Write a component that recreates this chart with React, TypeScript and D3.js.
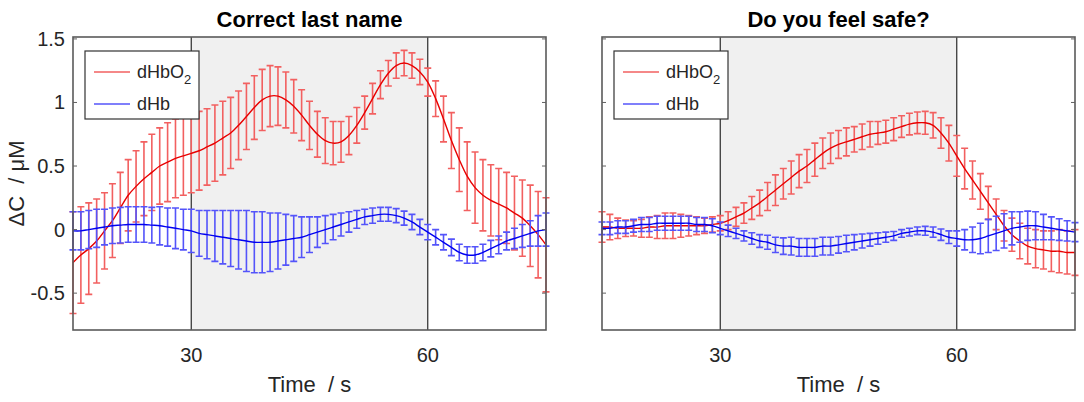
import * as d3 from 'd3';
import * as React from 'react';
import { Component } from 'react';

// sample times (s), one sample per second
const TIME: number[] = d3.range(15, 76);
const X_TICKS = [30, 60];
const Y_TICKS = [-0.5, 0, 0.5, 1, 1.5];
const TASK_WINDOW = [30, 60];
const TITLES = ['Correct last name', 'Do you feel safe?'];

// panel 1: "Correct last name"
const HBO2_MEAN_1 = [
  -0.26, -0.2, -0.15, -0.09, -0.01, 0.07, 0.17, 0.27, 0.34, 0.4,
  0.45, 0.5, 0.53, 0.56, 0.58, 0.6, 0.62, 0.65, 0.68, 0.72,
  0.76, 0.82, 0.89, 0.96, 1.02, 1.05, 1.05, 1.02, 0.97, 0.9,
  0.82, 0.75, 0.7, 0.68, 0.69, 0.74, 0.82, 0.92, 1.03, 1.14,
  1.23, 1.29, 1.31, 1.29, 1.24, 1.16, 1.03, 0.87, 0.7, 0.55,
  0.42, 0.33, 0.27, 0.23, 0.2, 0.17, 0.13, 0.09, 0.03, -0.04, -0.12
];
const HBO2_SD_1 = [
  0.4, 0.38, 0.36, 0.33, 0.3, 0.29, 0.28, 0.28, 0.28, 0.29,
  0.3, 0.3, 0.31, 0.31, 0.31, 0.31, 0.31, 0.3, 0.3, 0.29,
  0.28, 0.27, 0.26, 0.25, 0.24, 0.24, 0.23, 0.22, 0.21, 0.2,
  0.19, 0.18, 0.18, 0.17, 0.16, 0.15, 0.14, 0.13, 0.12, 0.11,
  0.1, 0.1, 0.1, 0.1, 0.1, 0.11, 0.14, 0.18, 0.22, 0.25,
  0.27, 0.28, 0.28, 0.28, 0.28, 0.28, 0.29, 0.3, 0.32, 0.34, 0.37
];
const HB_MEAN_1 = [
  -0.01, -0.01, 0, 0.01, 0.02, 0.03, 0.035, 0.04, 0.04, 0.04,
  0.035, 0.03, 0.02, 0.01, 0, -0.01, -0.03, -0.04, -0.05, -0.06,
  -0.07, -0.08, -0.09, -0.1, -0.1, -0.1, -0.09, -0.08, -0.07, -0.06,
  -0.04, -0.02, 0, 0.02, 0.04, 0.06, 0.08, 0.1, 0.11, 0.12,
  0.12, 0.11, 0.09, 0.06, 0.02, -0.02, -0.06, -0.1, -0.14, -0.18,
  -0.2, -0.2, -0.18, -0.15, -0.12, -0.09, -0.07, -0.05, -0.03, -0.01, 0
];
const HB_SD_1 = [
  0.15, 0.15, 0.15, 0.15, 0.14, 0.14, 0.14, 0.14, 0.14, 0.14,
  0.14, 0.15, 0.15, 0.16, 0.16, 0.17, 0.18, 0.19, 0.2, 0.21,
  0.22, 0.23, 0.24, 0.24, 0.24, 0.23, 0.22, 0.2, 0.18, 0.16,
  0.14, 0.12, 0.11, 0.1, 0.09, 0.08, 0.07, 0.06, 0.06, 0.055,
  0.055, 0.055, 0.055, 0.06, 0.06, 0.06, 0.06, 0.06, 0.065, 0.065,
  0.065, 0.065, 0.065, 0.065, 0.07, 0.07, 0.08, 0.09, 0.1, 0.12, 0.13
];

// panel 2: "Do you feel safe?"
const HBO2_MEAN_2 = [
  0.02, 0.02, 0.01, 0.01, 0.01, 0.01, 0.02, 0.02, 0.03, 0.03,
  0.03, 0.03, 0.03, 0.03, 0.04, 0.05, 0.07, 0.1, 0.13, 0.17,
  0.21, 0.26, 0.31, 0.36, 0.41, 0.46, 0.5, 0.55, 0.6, 0.64,
  0.67, 0.69, 0.71, 0.73, 0.75, 0.76, 0.77, 0.79, 0.81, 0.83,
  0.84, 0.84, 0.82, 0.76, 0.68, 0.58, 0.48, 0.39, 0.3, 0.21,
  0.12, 0.03, -0.04, -0.09, -0.13, -0.15, -0.16, -0.17, -0.17, -0.18, -0.18
];
const HBO2_SD_2 = [
  0.12, 0.1, 0.08, 0.065, 0.06, 0.07, 0.08, 0.09, 0.1, 0.1,
  0.09, 0.08, 0.07, 0.06, 0.06, 0.06, 0.07, 0.075, 0.08, 0.09,
  0.1, 0.11, 0.12, 0.12, 0.13, 0.13, 0.13, 0.13, 0.12, 0.12,
  0.11, 0.11, 0.1, 0.1, 0.1, 0.09, 0.09, 0.09, 0.085, 0.085,
  0.085, 0.09, 0.1, 0.12, 0.14, 0.16, 0.16, 0.15, 0.14, 0.13,
  0.12, 0.12, 0.13, 0.14, 0.14, 0.15, 0.15, 0.16, 0.17, 0.17, 0.18
];
const HB_MEAN_2 = [
  0.01, 0.01, 0.02, 0.02, 0.03, 0.04, 0.04, 0.05, 0.05, 0.05,
  0.05, 0.05, 0.04, 0.04, 0.03, 0.01, -0.01, -0.03, -0.05, -0.07,
  -0.09, -0.1, -0.12, -0.13, -0.13, -0.14, -0.14, -0.14, -0.13, -0.13,
  -0.12, -0.11, -0.1, -0.09, -0.08, -0.07, -0.06, -0.05, -0.03, -0.02,
  -0.01, -0.01, -0.02, -0.04, -0.06, -0.07, -0.08, -0.08, -0.07, -0.05,
  -0.03, -0.01, 0.01, 0.02, 0.03, 0.03, 0.02, 0.01, 0, -0.01, -0.02
];
const HB_SD_2 = [
  0.05, 0.05, 0.05, 0.05, 0.05, 0.055, 0.055, 0.055, 0.055, 0.055,
  0.055, 0.055, 0.055, 0.055, 0.055, 0.05, 0.045, 0.04, 0.04, 0.045,
  0.05, 0.055, 0.06, 0.065, 0.07, 0.07, 0.07, 0.07, 0.07, 0.07,
  0.065, 0.065, 0.06, 0.055, 0.05, 0.045, 0.04, 0.035, 0.03, 0.03,
  0.03, 0.035, 0.04, 0.045, 0.05, 0.06, 0.08, 0.1, 0.12, 0.13,
  0.135, 0.135, 0.13, 0.12, 0.115, 0.11, 0.1, 0.09, 0.085, 0.08, 0.075
];

const FONT = '"Liberation Sans", Arial, Helvetica, sans-serif';

interface IRefs {
  mountPoint?: SVGSVGElement | null;
}

export default class App extends Component {

  private ctrls: IRefs = {};

  public componentDidMount() {
    this.renderChart();
  }

  public render() {
    return (
      <svg
        width={1084}
        height={402}
        style={{ position: 'absolute', left: 0, top: 0, background: '#fff' }}
        ref={el => (this.ctrls.mountPoint = el)}
      />
    );
  }

  private renderChart = () => {
    if (!this.ctrls.mountPoint) {
      return;
    }
    const svg = d3.select(this.ctrls.mountPoint);
    svg.selectAll('*').remove();

    const panels = [
      { title: TITLES[0], left: 73, right: 546, red: [HBO2_MEAN_1, HBO2_SD_1], blue: [HB_MEAN_1, HB_SD_1], labels: true },
      { title: TITLES[1], left: 602, right: 1075, red: [HBO2_MEAN_2, HBO2_SD_2], blue: [HB_MEAN_2, HB_SD_2], labels: false }
    ];
    const top = 37;
    const bottom = 330;

    const y = d3.scaleLinear().domain([-0.79, 1.515]).range([bottom, top]);

    panels.forEach(p => {
      const x = d3.scaleLinear().domain([15, 75]).range([p.left, p.right]);
      const g = svg.append('g');

      g.append('rect')
        .attr('x', p.left).attr('y', top)
        .attr('width', p.right - p.left).attr('height', bottom - top)
        .attr('fill', '#fff');

      g.append('rect')
        .attr('x', x(TASK_WINDOW[0])).attr('y', top)
        .attr('width', x(TASK_WINDOW[1]) - x(TASK_WINDOW[0])).attr('height', bottom - top)
        .attr('fill', '#f0f0f0');

      g.selectAll('line.event')
        .data(TASK_WINDOW)
        .enter().append('line')
        .attr('class', 'event')
        .attr('x1', d => x(d)).attr('x2', d => x(d))
        .attr('y1', top).attr('y2', bottom)
        .attr('stroke', '#2a2a2a')
        .attr('stroke-width', 1.2);

      const series = [
        { mean: p.red[0], sd: p.red[1], bar: 'rgb(242,96,96)', line: '#e80000' },
        { mean: p.blue[0], sd: p.blue[1], bar: 'rgb(84,84,250)', line: '#0000f0' }
      ];

      series.forEach(s => {
        const cap = 3.5;
        const bars = g.append('g')
          .attr('stroke', s.bar)
          .attr('stroke-width', 1.6)
          .attr('fill', 'none');
        TIME.forEach((t, i) => {
          const cx = x(t);
          const y1 = y(s.mean[i] + s.sd[i]);
          const y2 = y(s.mean[i] - s.sd[i]);
          bars.append('path')
            .attr('d', `M${cx},${y1}V${y2}M${cx - cap},${y1}H${cx + cap}M${cx - cap},${y2}H${cx + cap}`);
        });

        const line = d3.line<number>()
          .x((_, i) => x(TIME[i]))
          .y(d => y(d))
          .curve(d3.curveCatmullRom.alpha(0.5));

        g.append('path')
          .attr('d', line(s.mean))
          .attr('fill', 'none')
          .attr('stroke', s.line)
          .attr('stroke-width', 1.4);
      });

      // axes box
      g.append('rect')
        .attr('x', p.left).attr('y', top)
        .attr('width', p.right - p.left).attr('height', bottom - top)
        .attr('fill', 'none')
        .attr('stroke', '#5a5a5a')
        .attr('stroke-width', 1.6);

      const tl = 4;
      Y_TICKS.forEach(v => {
        g.append('line')
          .attr('x1', p.left).attr('x2', p.left + tl)
          .attr('y1', y(v)).attr('y2', y(v))
          .attr('stroke', '#606060');
        g.append('line')
          .attr('x1', p.right).attr('x2', p.right - tl)
          .attr('y1', y(v)).attr('y2', y(v))
          .attr('stroke', '#606060');
        if (p.labels) {
          g.append('text')
            .attr('x', p.left - 8)
            .attr('y', y(v) + 7)
            .attr('text-anchor', 'end')
            .attr('font-family', FONT)
            .attr('font-size', 20)
            .attr('fill', '#262626')
            .text(String(v));
        }
      });

      X_TICKS.forEach(t => {
        g.append('text')
          .attr('x', x(t))
          .attr('y', 362)
          .attr('text-anchor', 'middle')
          .attr('font-family', FONT)
          .attr('font-size', 20)
          .attr('fill', '#262626')
          .text(String(t));
      });

      g.append('text')
        .attr('x', (p.left + p.right) / 2)
        .attr('y', 392)
        .attr('text-anchor', 'middle')
        .attr('font-family', FONT)
        .attr('font-size', 22)
        .attr('fill', '#262626')
        .style('white-space', 'pre')
        .text('Time  / s');

      g.append('text')
        .attr('x', (p.left + p.right) / 2)
        .attr('y', 27)
        .attr('text-anchor', 'middle')
        .attr('font-family', FONT)
        .attr('font-size', 22)
        .attr('font-weight', 'bold')
        .attr('fill', '#000')
        .text(p.title);

      // legend
      const lx = p.left + 12;
      const lg = g.append('g');
      lg.append('rect')
        .attr('x', lx).attr('y', 51)
        .attr('width', 114).attr('height', 68)
        .attr('fill', '#fff')
        .attr('stroke', '#333')
        .attr('stroke-width', 1.2);
      const entries = [
        { name: 'dHbO', sub: '2', color: series[0].bar, ly: 72 },
        { name: 'dHb', sub: '', color: series[1].bar, ly: 104 }
      ];
      entries.forEach(e => {
        lg.append('line')
          .attr('x1', lx + 9).attr('x2', lx + 45)
          .attr('y1', e.ly).attr('y2', e.ly)
          .attr('stroke', e.color)
          .attr('stroke-width', 1.6);
        const txt = lg.append('text')
          .attr('x', lx + 52)
          .attr('y', e.ly + 6)
          .attr('font-family', FONT)
          .attr('font-size', 18)
          .attr('fill', '#262626')
          .text(e.name);
        if (e.sub) {
          txt.append('tspan')
            .attr('dy', 6)
            .attr('font-size', 13)
            .text(e.sub);
        }
      });
    });

    svg.append('text')
      .attr('transform', `translate(24,${(top + bottom) / 2}) rotate(-90)`)
      .attr('text-anchor', 'middle')
      .attr('font-family', FONT)
      .attr('font-size', 22)
      .attr('fill', '#262626')
      .style('white-space', 'pre')
      .text('\u0394C  / \u03bcM');
  }
}
